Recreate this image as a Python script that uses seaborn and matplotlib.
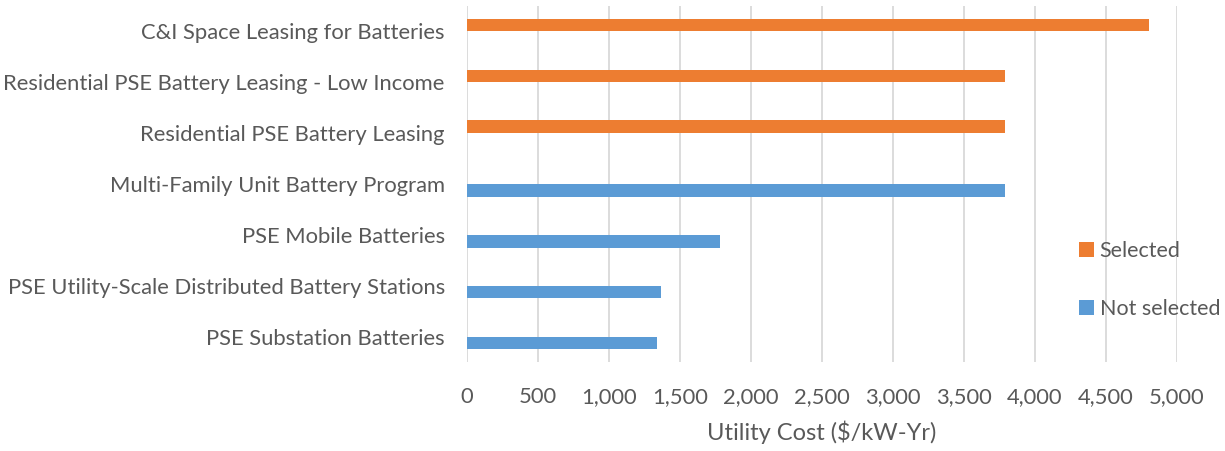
import matplotlib
matplotlib.use("Agg")
import matplotlib.pyplot as plt
import seaborn as sns
import pandas as pd

programs = [
    "C&I Space Leasing for Batteries",
    "Residential PSE Battery Leasing - Low Income",
    "Residential PSE Battery Leasing",
    "Multi-Family Unit Battery Program",
    "PSE Mobile Batteries",
    "PSE Utility-Scale Distributed Battery Stations",
    "PSE Substation Batteries",
]
costs = [4800, 3790, 3790, 3790, 1785, 1363, 1340]
status = ["Selected", "Selected", "Selected",
          "Not selected", "Not selected", "Not selected", "Not selected"]
hue_levels = ["Selected", "Not selected"]
ticks = [0, 500, 1000, 1500, 2000, 2500, 3000, 3500, 4000, 4500, 5000]

df = pd.DataFrame({"Program": programs, "Cost": costs, "Status": status})

sns.set_style("white")
plt.rcParams["font.family"] = ["Lato", "DejaVu Sans"]
text_color = "#595959"

fig = plt.figure(figsize=(12.25, 4.51), dpi=100)
ax = fig.add_axes([467 / 1225, 1 - 362 / 451, (1177 - 467) / 1225, (362 - 6) / 451])

sns.barplot(data=df, x="Cost", y="Program", hue="Status", hue_order=hue_levels,
            order=programs, orient="h", width=0.5, dodge=True, gap=0,
            palette={"Selected": "#ED7D31", "Not selected": "#5B9BD5"},
            saturation=1, linewidth=0, ax=ax, legend=True)

ax.set_xlim(0, 5000)
ax.set_xticks(ticks)
ax.set_xticklabels([f"{t:,}" for t in ticks])
ax.grid(axis="x", color="#D9D9D9", linewidth=1.3)
ax.set_axisbelow(True)
for s in ax.spines.values():
    s.set_visible(False)
ax.tick_params(axis="both", length=0, labelsize=15.8, colors=text_color)
ax.tick_params(axis="x", pad=18)
ax.tick_params(axis="y", pad=16)
ax.set_ylabel("")
ax.set_xlabel("Utility Cost ($/kW-Yr)", fontsize=17, color=text_color, labelpad=10)

handles, labels = ax.get_legend_handles_labels()
ax.legend(handles, labels, loc="center left", bbox_to_anchor=(1064 / 1225, 1 - 280 / 451),
          bbox_transform=fig.transFigure, frameon=False, fontsize=15.5,
          labelcolor=text_color, handlelength=0.7, handleheight=0.7,
          handletextpad=0.25, labelspacing=1.8, borderpad=0.2)

fig.savefig("out.png", dpi=100)
